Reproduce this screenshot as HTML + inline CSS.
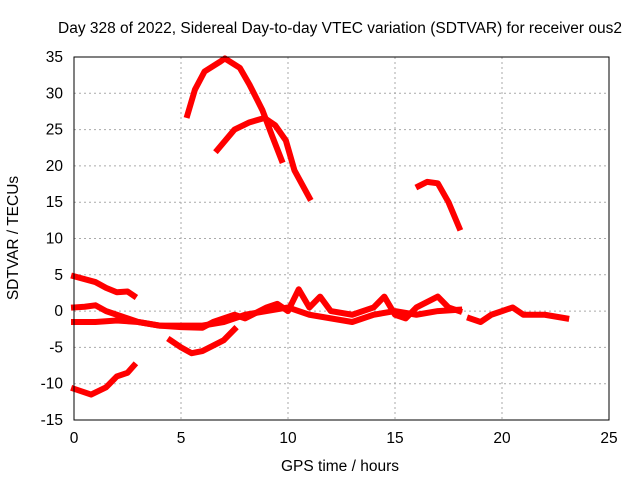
<!DOCTYPE html>
<html><head><meta charset="utf-8"><style>
body{margin:0;background:#fff}
svg{display:block;font-family:"Liberation Sans",sans-serif;font-size:15.5px}
</style></head><body>
<svg id="chart" width="640" height="480">
<text x="340" y="33" text-anchor="middle">Day 328 of 2022, Sidereal Day-to-day VTEC variation (SDTVAR) for receiver ous2</text>
<text x="340" y="471" text-anchor="middle">GPS time / hours</text>
<text transform="translate(18,238) rotate(-90)" text-anchor="middle">SDTVAR / TECUs</text>
<g id="grid"></g><g id="series"></g>
<rect x="74" y="57" width="535" height="363" fill="none" stroke="#000"/>
</svg>
<script>
const xTicks=[0,5,10,15,20,25];
const yTicks=[-15,-10,-5,0,5,10,15,20,25,30,35];
const track1=[[5.3,27],[5.65,30.5],[6.1,33],[6.8,34.3],[7.05,34.8],[7.75,33.5],[8.2,31.2],[8.8,27.7],[9.25,24.2],[9.7,20.8]];
const track2=[[6.7,22.2],[7.5,25],[8.2,26],[8.9,26.6],[9.4,25.6],[9.9,23.5],[10.3,19.4],[11,15.6]];
const track3=[[16.1,17.2],[16.5,17.8],[17,17.6],[17.5,15],[18,11.5]];
const track4=[[0,4.8],[1,4],[1.5,3.2],[2,2.6],[2.5,2.7],[2.8,2.1]];
const track5=[[0,0.5],[0.5,0.6],[1,0.8],[1.5,0],[2,-0.5],[2.5,-1],[3,-1.5],[4,-2],[5,-2.2],[6,-2.3],[6.5,-1.5],[7,-1],[7.5,-0.5],[8,-1],[9,0.5],[9.5,1],[10,0],[10.5,3],[11,0.5],[11.5,2],[12,0],[13,-0.5],[14,0.5],[14.5,2],[15,-0.5],[15.5,-1],[16,0.5],[17,2],[17.5,0.5],[18,0]];
const track6=[[0,-1.5],[1,-1.5],[2,-1.3],[3,-1.5],[4,-2],[5,-2],[6,-2],[7,-1.5],[8,-0.5],[9,0],[10,0.5],[11,-0.5],[12,-1],[13,-1.5],[14,-0.5],[15,0],[16,-0.5],[17,0],[18,0.2]];
const track7=[[4.5,-4],[5,-5],[5.5,-5.8],[6,-5.5],[7,-4],[7.5,-2.5]];
const track8=[[0,-10.7],[0.8,-11.5],[1.5,-10.5],[2,-9],[2.5,-8.5],[2.8,-7.5]];
const track9=[[18.5,-1],[19,-1.5],[19.5,-0.5],[20,0],[20.5,0.5],[21,-0.5],[22,-0.5],[23,-1]];
const tracks=[track1,track2,track3,track4,track5,track6,track7,track8,track9];
const X=v=>74+v*535/25, Y=v=>420-(v+15)*363/50;
const ns="http://www.w3.org/2000/svg";
const g=document.getElementById('grid'), s=document.getElementById('series');
function el(t,a,p){const e=document.createElementNS(ns,t);for(const k in a)e.setAttribute(k,a[k]);p.appendChild(e);return e;}
xTicks.forEach(t=>{
 const l=el('line',{x1:X(t),x2:X(t),y1:57,y2:420,stroke:'#aaa','stroke-dasharray':'2,3'},g);
 
 
 const tx=el('text',{x:X(t),y:443,'text-anchor':'middle'},g);tx.textContent=t;
 
 
});
yTicks.forEach(t=>{
 const l=el('line',{x1:74,x2:609,y1:Y(t),y2:Y(t),stroke:'#aaa','stroke-dasharray':'2,3'},g);
 
 
 const tx=el('text',{x:63,y:Y(t)+5,'text-anchor':'end'},g);tx.textContent=t;
 
 
});
tracks.forEach((tr,i)=>{
 const p=el('polyline',{points:tr.map(d=>X(d[0])+','+Y(d[1])).join(' '),fill:'none',stroke:'#f00','stroke-width':6,'stroke-linejoin':'round','stroke-linecap':'square'},s);
 
 
});
</script>
</body></html>
